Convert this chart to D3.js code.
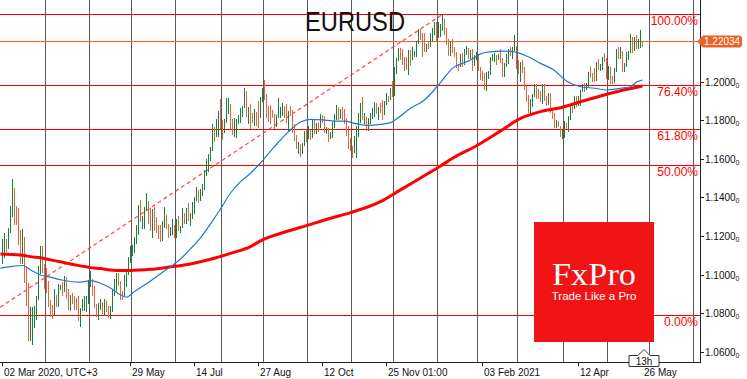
<!DOCTYPE html>
<html><head><meta charset="utf-8">
<script src="https://cdn.jsdelivr.net/npm/d3@7"></script>
<style>html,body{margin:0;padding:0;background:#fff}svg{display:block}</style>
</head><body><svg id="c" width="747" height="379"></svg>
<script>
// ---- data (daily bars, 02 Mar 2020 .. 26 May 2021), index = bar number ----
const symbol = "EURUSD";
const firstOpen = 1.1026;
const highs = [
1.1185,1.1214,1.1186,1.1239,1.1355,1.1495,1.1447,1.1358,1.1345,1.1229,1.1236,1.1193,1.1044,1.0957,1.0832,1.0830,1.0835,1.0890,1.1045,1.1148,1.1146,1.1054,
1.1035,1.0968,1.0870,1.0840,1.0927,1.0892,1.0952,1.0947,1.0960,1.0990,1.0989,1.0925,1.0896,1.0902,1.0888,1.0880,1.0889,1.0828,1.0872,1.0890,1.0889,1.0973,
1.1019,1.0977,1.0940,1.0846,1.0853,1.0875,1.0860,1.0874,1.0866,1.0835,1.0838,1.0927,1.0975,1.1009,1.1008,1.0966,1.0914,1.0996,1.1028,1.1093,1.1146,
1.1154,1.1194,1.1257,1.1362,1.1384,1.1303,1.1349,1.1422,1.1381,1.1345,1.1338,1.1348,1.1301,1.1255,1.1256,1.1276,1.1349,1.1310,1.1262,1.1249,1.1287,1.1257,
1.1288,1.1303,1.1252,1.1346,1.1318,1.1345,1.1371,1.1320,1.1375,1.1404,1.1452,1.1436,1.1442,1.1470,1.1540,1.1601,1.1625,1.1660,1.1781,1.1767,1.1806,1.1847,1.1909,
1.1804,1.1809,1.1916,1.1916,1.1884,1.1809,1.1810,1.1805,1.1826,1.1864,1.1874,1.1966,1.1950,1.1870,1.1882,1.1840,1.1860,1.1845,1.1900,1.1919,1.1965,
1.2011,1.1937,1.1874,1.1880,1.1853,1.1831,1.1827,1.1917,1.1871,1.1887,1.1874,1.1883,1.1850,1.1872,1.1852,1.1783,1.1722,1.1687,1.1679,1.1683,1.1745,1.1754,
1.1771,1.1753,1.1799,1.1809,1.1786,1.1790,1.1831,1.1829,1.1823,1.1765,1.1760,1.1740,1.1791,1.1830,1.1880,1.1868,1.1860,1.1870,1.1860,1.1810,1.1771,1.1710,
1.1665,1.1721,1.1770,1.1839,1.1891,1.1920,1.1838,1.1819,1.1811,1.1840,1.1866,1.1893,1.1891,1.1870,1.1890,1.1906,1.1900,1.1942,1.1925,1.1965,1.2003,
1.2077,1.2124,1.2176,1.2177,1.2167,1.2128,1.2127,1.2164,1.2162,1.2178,1.2160,1.2212,1.2273,1.2272,1.2251,1.2250,1.2197,1.2210,1.2250,1.2276,1.2310,1.2310,
1.2310,1.2300,1.2349,1.2327,1.2280,1.2224,1.2210,1.2223,1.2181,1.2155,1.2090,1.2145,1.2150,1.2171,1.2184,1.2177,1.2164,1.2168,1.2136,1.2155,
1.2145,1.2076,1.2058,1.2044,1.2050,1.2057,1.2126,1.2143,1.2150,1.2140,1.2143,1.2169,1.2123,1.2097,1.2145,1.2169,1.2180,1.2180,1.2243,1.2184,
1.2113,1.2100,1.2113,1.2074,1.1976,1.1930,1.1909,1.1935,1.1990,1.1987,1.1960,1.1950,1.1988,1.1990,1.1927,1.1942,1.1942,1.1850,1.1836,1.1800,1.1797,1.1772,1.1747,
1.1795,1.1784,1.1820,1.1880,1.1887,1.1928,1.1926,1.1925,1.1955,1.1988,1.1994,1.1995,1.2048,1.2080,1.2043,1.2070,1.2100,1.2117,1.2092,1.2130,1.2150,1.2125,
1.2080,1.2075,1.2030,1.2071,1.2172,1.2180,1.2181,1.2160,1.2095,1.2152,1.2160,1.2245,1.2230,1.2230,1.2244,1.2222,1.2266,1.2212
];
const lows = [
1.1055,1.1085,1.1115,1.1132,1.1215,1.1300,1.1255,1.1256,1.1155,1.1053,1.1055,1.0955,1.0838,1.0654,1.0656,1.0636,1.0721,1.0766,1.0870,1.1001,1.1006,1.0927,
1.0905,1.0830,1.0778,1.0768,1.0791,1.0831,1.0831,1.0918,1.0890,1.0910,1.0875,1.0815,1.0813,1.0846,1.0815,1.0815,1.0757,1.0727,1.0813,1.0812,1.0805,1.0849,
1.0938,1.0890,1.0826,1.0782,1.0766,1.0815,1.0795,1.0788,1.0805,1.0775,1.0772,1.0806,1.0887,1.0913,1.0939,1.0870,1.0870,1.0887,1.0935,1.0997,1.1060,
1.1095,1.1112,1.1158,1.1205,1.1275,1.1237,1.1234,1.1328,1.1264,1.1226,1.1188,1.1224,1.1216,1.1185,1.1168,1.1175,1.1239,1.1236,1.1188,1.1198,1.1206,1.1191,
1.1190,1.1225,1.1217,1.1241,1.1260,1.1262,1.1277,1.1254,1.1290,1.1315,1.1381,1.1371,1.1383,1.1407,1.1438,1.1509,1.1533,1.1589,1.1643,1.1687,1.1711,1.1714,1.1756,
1.1696,1.1732,1.1788,1.1835,1.1754,1.1723,1.1711,1.1710,1.1779,1.1788,1.1817,1.1864,1.1819,1.1782,1.1753,1.1786,1.1770,1.1772,1.1762,1.1814,1.1897,
1.1903,1.1811,1.1790,1.1781,1.1811,1.1755,1.1765,1.1813,1.1813,1.1823,1.1810,1.1787,1.1737,1.1822,1.1733,1.1690,1.1650,1.1627,1.1612,1.1624,1.1664,1.1685,
1.1702,1.1696,1.1708,1.1729,1.1730,1.1738,1.1761,1.1788,1.1735,1.1731,1.1689,1.1703,1.1710,1.1760,1.1804,1.1803,1.1809,1.1801,1.1780,1.1717,1.1650,1.1640,
1.1602,1.1632,1.1603,1.1711,1.1787,1.1800,1.1783,1.1745,1.1746,1.1782,1.1807,1.1818,1.1834,1.1800,1.1837,1.1800,1.1825,1.1879,1.1895,1.1905,1.1923,
1.1925,1.2039,1.2106,1.2112,1.2086,1.2058,1.2059,1.2036,1.2080,1.2113,1.2126,1.2129,1.2196,1.2218,1.2129,1.2152,1.2153,1.2172,1.2178,1.2206,1.2240,1.2211,
1.2225,1.2233,1.2263,1.2244,1.2192,1.2132,1.2132,1.2151,1.2129,1.2069,1.2054,1.2076,1.2077,1.2088,1.2140,1.2117,1.2120,1.2058,1.2080,1.2114,
1.2054,1.2010,1.2003,1.1955,1.1952,1.2013,1.2033,1.2105,1.2100,1.2089,1.2110,1.2097,1.2023,1.2022,1.2078,1.2090,1.2133,1.2120,1.2161,1.2065,
1.2040,1.2000,1.2046,1.1959,1.1894,1.1836,1.1835,1.1869,1.1920,1.1910,1.1910,1.1896,1.1884,1.1900,1.1873,1.1878,1.1840,1.1809,1.1760,1.1762,1.1763,1.1711,1.1704,
1.1710,1.1755,1.1741,1.1799,1.1837,1.1857,1.1867,1.1875,1.1875,1.1948,1.1947,1.1955,1.1973,1.2020,1.1997,1.2000,1.2005,1.2060,1.2055,1.2059,1.2103,1.2016,
1.2010,1.1986,1.1986,1.1995,1.2050,1.2119,1.2116,1.2050,1.2052,1.2075,1.2110,1.2150,1.2150,1.2160,1.2170,1.2170,1.2175,1.2180
];
const closes = [
1.1136,1.1174,1.1136,1.1238,1.1284,1.1447,1.1284,1.1266,1.1185,1.1105,1.1178,1.0996,1.0917,1.0690,1.0693,1.0722,1.0795,1.0884,1.1031,1.1140,1.1045,1.1031,
1.0964,1.0858,1.0804,1.0794,1.0890,1.0856,1.0935,1.0937,1.0913,1.0985,1.0906,1.0838,1.0875,1.0863,1.0857,1.0822,1.0781,1.0821,1.0824,1.0825,1.0872,1.0955,
1.0983,1.0906,1.0838,1.0796,1.0835,1.0840,1.0806,1.0850,1.0816,1.0804,1.0819,1.0919,1.0924,1.0998,1.0946,1.0900,1.0899,1.0980,1.1006,1.1077,1.1100,
1.1135,1.1170,1.1235,1.1337,1.1292,1.1295,1.1343,1.1371,1.1299,1.1255,1.1334,1.1264,1.1243,1.1205,1.1178,1.1255,1.1307,1.1251,1.1219,1.1220,1.1242,1.1233,
1.1251,1.1240,1.1246,1.1309,1.1275,1.1330,1.1285,1.1300,1.1342,1.1398,1.1410,1.1383,1.1426,1.1445,1.1528,1.1568,1.1594,1.1656,1.1752,1.1718,1.1791,1.1847,1.1778,
1.1761,1.1797,1.1860,1.1878,1.1786,1.1737,1.1738,1.1785,1.1812,1.1842,1.1870,1.1930,1.1836,1.1842,1.1798,1.1793,1.1832,1.1830,1.1817,1.1902,1.1935,
1.1913,1.1855,1.1850,1.1837,1.1818,1.1779,1.1801,1.1814,1.1846,1.1863,1.1846,1.1817,1.1848,1.1838,1.1772,1.1703,1.1658,1.1671,1.1631,1.1665,1.1744,1.1721,
1.1747,1.1715,1.1784,1.1734,1.1760,1.1758,1.1823,1.1813,1.1746,1.1747,1.1706,1.1717,1.1768,1.1820,1.1862,1.1815,1.1860,1.1813,1.1794,1.1746,1.1674,1.1646,
1.1641,1.1715,1.1722,1.1826,1.1874,1.1813,1.1815,1.1778,1.1810,1.1833,1.1854,1.1860,1.1849,1.1870,1.1857,1.1840,1.1890,1.1914,1.1912,1.1960,1.1928,
1.2072,1.2114,1.2146,1.2121,1.2108,1.2103,1.2079,1.2132,1.2111,1.2143,1.2152,1.2198,1.2263,1.2256,1.2240,1.2159,1.2191,1.2184,1.2214,1.2248,1.2299,1.2216,
1.2248,1.2296,1.2325,1.2272,1.2219,1.2151,1.2206,1.2156,1.2153,1.2081,1.2078,1.2130,1.2107,1.2165,1.2170,1.2140,1.2162,1.2114,1.2118,1.2136,
1.2060,1.2040,1.2038,1.1965,1.2045,1.2049,1.2118,1.2119,1.2132,1.2118,1.2127,1.2107,1.2039,1.2092,1.2119,1.2156,1.2149,1.2165,1.2175,1.2075,
1.2047,1.2090,1.2061,1.1967,1.1915,1.1847,1.1900,1.1928,1.1984,1.1952,1.1929,1.1900,1.1978,1.1916,1.1904,1.1938,1.1853,1.1813,1.1763,1.1794,1.1770,1.1718,1.1728,
1.1778,1.1762,1.1812,1.1875,1.1870,1.1915,1.1899,1.1911,1.1947,1.1979,1.1967,1.1983,1.2038,1.2035,1.2033,1.2014,1.2097,1.2085,1.2089,1.2128,1.2124,1.2020,
1.2062,1.2013,1.2005,1.2065,1.2165,1.2131,1.2150,1.2074,1.2079,1.2143,1.2155,1.2223,1.2173,1.2225,1.2180,1.2213,1.2250,1.2203
];
// moving averages (bar index, value)
const blueIdx = [-1,4,10,14,19,24,29,34,39,44,49,54,59,62,66,74,79,84,89,94,99,104,109,114,119,124,129,136,143,149,154,160,166,171,176,182,189,194,197,204,211,218,225,234,239,244,250,256,262,269,276,282,289,296,302,309,314,317,320];
const blueVal = [1.1033,1.1041,1.1047,1.1024,1.0998,1.0987,1.0973,1.0964,1.0961,1.0969,1.0955,1.0930,1.0895,1.0883,1.0912,1.0967,1.1004,1.1040,1.1081,1.1133,1.1190,1.1263,1.1340,1.1423,1.1482,1.1525,1.1579,1.1663,1.1741,1.1791,1.1805,1.1802,1.1796,1.1796,1.1784,1.1774,1.1779,1.1788,1.1807,1.1862,1.1905,1.1983,1.2069,1.2112,1.2144,1.2155,1.2159,1.2155,1.2133,1.2095,1.2058,1.2004,1.1974,1.1966,1.1957,1.1966,1.1974,1.1998,1.2009];
const redIdx = [-1,9,14,19,24,29,34,39,44,49,54,59,64,74,84,94,104,114,124,130,142,152,164,174,189,199,209,219,225,237,249,259,269,279,289,299,309,320];
const redVal = [1.1107,1.1102,1.1093,1.1087,1.1076,1.1066,1.1055,1.1045,1.1036,1.1031,1.1024,1.1021,1.1021,1.1027,1.1040,1.1055,1.1079,1.1110,1.1145,1.1180,1.1223,1.1254,1.1292,1.1321,1.1378,1.1439,1.1501,1.1563,1.1603,1.1668,1.1745,1.1810,1.1845,1.1865,1.1896,1.1926,1.1953,1.1978];
// axes
const xTickIdx = [0,64,96,128,160,192,240,288,320];
const xTickLabels = ["02 Mar 2020, UTC+3","29 May","14 Jul","27 Aug","12 Oct","25 Nov 01:00","03 Feb 2021","12 Apr","26 May"];
const monthGridIdx = [22,44,65,87,110,131,153,175,196,218,238,258,281,303,324,346];
const yTicks = [1.06,1.08,1.10,1.12,1.14,1.16,1.18,1.20];
// fibonacci
const fibLow = 1.0790, fibHigh = 1.2349, fibLowIdx = -7, fibHighIdx = 220;
const fibLevels = [1, 0.764, 0.618, 0.5, 0];
const fibLabels = ["100.00%","76.40%","61.80%","50.00%","0.00%"];
const lastPrice = 1.22034, lastPriceText = "1.22034", timeLeft = "13h";
const logoTitle = "FxPro", logoSub = "Trade Like a Pro";

// ---- drawing ----
const W = 747, H = 379, plotR = 700, plotB = 362;
const svg = d3.select("#c");
const x = d3.scaleLinear().domain([0, 1]).range([2.5, 4.5]);
const y = d3.scaleLinear().domain([1.06, 1.20]).range([351.7, 81.7]);
const snap = v => Math.round(v) + 0.5;

svg.append("rect").attr("width", W).attr("height", H).attr("fill", "#fff");
svg.append("clipPath").attr("id", "clip").append("rect").attr("x", 0).attr("y", 0).attr("width", plotR).attr("height", plotB);
const plot = svg.append("g").attr("clip-path", "url(#clip)");

// vertical month grid
plot.selectAll("line.grid").data(monthGridIdx).join("line")
  .attr("x1", d => Math.floor(x(d) - 1.5) + 0.5).attr("x2", d => Math.floor(x(d) - 1.5) + 0.5)
  .attr("y1", 0).attr("y2", plotB).attr("stroke", "#5a5a5a").attr("stroke-width", 1);

// fib lines
const fibPrice = l => fibLow + l * (fibHigh - fibLow);
plot.selectAll("line.fib").data(fibLevels).join("line")
  .attr("x1", 0).attr("x2", plotR)
  .attr("y1", d => snap(y(fibPrice(d)))).attr("y2", d => snap(y(fibPrice(d))))
  .attr("stroke", "#ff0000").attr("stroke-width", 1);

// dashed trend line of the fib
plot.append("line")
  .attr("x1", x(fibLowIdx)).attr("y1", y(fibLow)).attr("x2", x(fibHighIdx)).attr("y2", y(fibHigh))
  .attr("stroke", "#ff3030").attr("stroke-width", 1.3).attr("stroke-dasharray", "4,3").attr("opacity", 0.85);

// current price line
plot.append("line").attr("x1", 0).attr("x2", plotR)
  .attr("y1", snap(y(lastPrice)) - 1).attr("y2", snap(y(lastPrice)) - 1)
  .attr("stroke", "#f0642a").attr("stroke-width", 1);

// bars
const bars = highs.map((h, i) => ({ i, h, l: lows[i], up: closes[i] > (i === 0 ? firstOpen : closes[i - 1]) }));
plot.selectAll("rect.bar").data(bars).join("rect")
  .attr("x", d => Math.round(x(d.i) - 0.5)).attr("width", 1)
  .attr("y", d => Math.round(y(d.h)))
  .attr("height", d => Math.max(1, Math.round(y(d.l)) - Math.round(y(d.h))))
  .attr("fill", d => d.up ? "#15803a" : "#e8623a");

// moving averages
const line = d3.line().x(d => x(d[0])).y(d => y(d[1])).curve(d3.curveMonotoneX);
plot.append("path").datum(redIdx.map((d, k) => [d, redVal[k]]))
  .attr("d", line).attr("fill", "none").attr("stroke", "#ff0000").attr("stroke-width", 3);
plot.append("path").datum(blueIdx.map((d, k) => [d, blueVal[k]]))
  .attr("d", line).attr("fill", "none").attr("stroke", "#1e78c8").attr("stroke-width", 1.2);

// fib labels
plot.selectAll("text.fib").data(fibLevels).join("text")
  .attr("x", 698).attr("y", d => y(fibPrice(d)) + 11)
  .attr("text-anchor", "end").attr("font-family", "Liberation Sans, Arial, sans-serif")
  .attr("font-size", 12).attr("fill", "#ff0000").text((d, k) => fibLabels[k]);

// title
svg.append("text").attr("x", 305).attr("y", 30.5).attr("font-family", "Liberation Sans, Arial, sans-serif")
  .attr("font-size", 28).attr("textLength", 100).attr("lengthAdjust", "spacingAndGlyphs")
  .attr("fill", "#111").text(symbol);

// logo
const logo = svg.append("g");
logo.append("rect").attr("x", 534).attr("y", 222).attr("width", 120).attr("height", 120).attr("fill", "#f01414");
logo.append("text").attr("x", 594).attr("y", 284.5).attr("text-anchor", "middle")
  .attr("font-family", "Liberation Serif, Times New Roman, serif").attr("font-size", 32)
  .attr("textLength", 84).attr("lengthAdjust", "spacingAndGlyphs").attr("fill", "#fff").text(logoTitle);
logo.append("text").attr("x", 594).attr("y", 300).attr("text-anchor", "middle")
  .attr("font-family", "Liberation Sans, Arial, sans-serif").attr("font-size", 11.5)
  .attr("fill", "#fff").text(logoSub);

// axes frame
svg.append("line").attr("x1", plotR + 0.5).attr("x2", plotR + 0.5).attr("y1", 0).attr("y2", plotB + 1).attr("stroke", "#222");
svg.append("line").attr("x1", 0).attr("x2", plotR + 1).attr("y1", plotB + 0.5).attr("y2", plotB + 0.5).attr("stroke", "#222");

// y axis
const yt = svg.selectAll("g.yt").data(yTicks).join("g").attr("transform", d => `translate(0,${snap(y(d))})`);
yt.append("line").attr("x1", plotR).attr("x2", plotR + 4).attr("stroke", "#222");
const ytx = yt.append("text").attr("x", 705).attr("y", 3.5).attr("font-family", "Liberation Sans, Arial, sans-serif")
  .attr("font-size", 10).attr("fill", "#111");
ytx.append("tspan").text(d => d3.format(".4f")(d));
ytx.append("tspan").attr("font-size", 7).attr("dy", 2).text("0");

// x axis
const xt = svg.selectAll("g.xt").data(xTickIdx).join("g").attr("transform", d => `translate(${Math.floor(x(d)) + 0.5},0)`);
xt.append("line").attr("y1", plotB).attr("y2", plotB + 4).attr("stroke", "#222");
xt.append("text").attr("x", 1.5).attr("y", 376).attr("font-family", "Liberation Sans, Arial, sans-serif")
  .attr("font-size", 10).attr("fill", "#111").text((d, k) => xTickLabels[k]);

// price label
const py = snap(y(lastPrice)) - 1;
svg.append("path").attr("d", `M697,${py} L703,${py - 6} L740,${py - 6} L742,${py - 4} L742,${py + 4} L740,${py + 6} L703,${py + 6} Z`)
  .attr("fill", "#ec6126");
svg.append("text").attr("x", 704).attr("y", py + 3.5).attr("font-family", "Liberation Sans, Arial, sans-serif")
  .attr("font-size", 10).attr("fill", "#fff").text(lastPriceText);

// time-left box
const tx = Math.floor(x(highs.length - 1)) + 2;
svg.append("path").attr("d", `M${tx - 15},355.5 L${tx - 6},355.5 L${tx},349.5 L${tx + 6},355.5 L${tx + 15},355.5 L${tx + 15},366.5 L${tx - 15},366.5 Z`)
  .attr("fill", "#fff").attr("stroke", "#333");
svg.append("text").attr("x", tx).attr("y", 364.5).attr("text-anchor", "middle")
  .attr("font-family", "Liberation Sans, Arial, sans-serif").attr("font-size", 10).attr("fill", "#111").text(timeLeft);
</script>
</body></html>
